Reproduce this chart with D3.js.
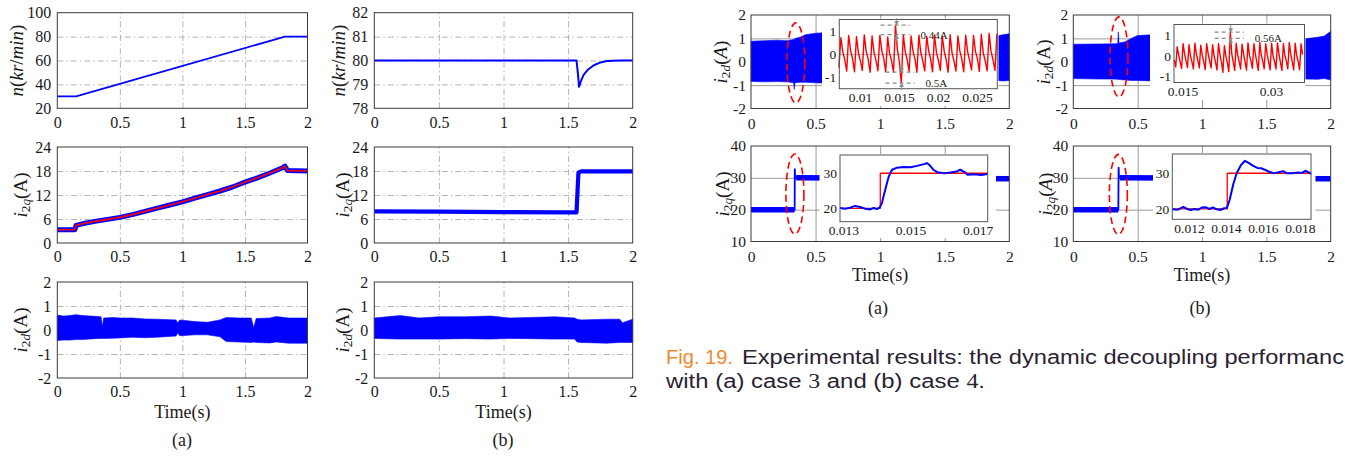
<!DOCTYPE html>
<html>
<head>
<meta charset="utf-8">
<script src="https://cdn.jsdelivr.net/npm/d3@7"></script>
<style>
body {margin:0; background:#fff}
svg {display:block}
</style>
</head>
<body>
<script>
// ---------------- data ----------------
var timeTicks = [0, 0.5, 1, 1.5, 2]

// left column (a): speed ramp, i2q tracking, i2d ripple envelope
var speedA_t = [0, 0.15, 1.82, 2]
var speedA_v = [30, 30, 80, 80]
var iqA_t = [0, 0.14, 0.15, 0.2, 0.3, 0.4, 0.5, 0.6, 0.7, 0.8, 0.9, 1.0, 1.1, 1.2, 1.3, 1.4, 1.5, 1.6, 1.7, 1.8, 1.82, 1.84, 2]
var iqA_v = [3.3, 3.3, 4.4, 4.8, 5.4, 5.9, 6.4, 7.1, 7.9, 8.7, 9.5, 10.3, 11.2, 12.1, 13.0, 14.0, 15.2, 16.3, 17.5, 18.8, 19.2, 18.1, 18.0]
var idA_t  = [0, 0.05, 0.1, 0.15, 0.2, 0.3, 0.35, 0.36, 0.37, 0.45, 0.5, 0.6, 0.7, 0.8, 0.95, 0.96, 0.98, 1.1, 1.2, 1.3, 1.35, 1.45, 1.55, 1.57, 1.59, 1.7, 1.75, 1.85, 2]
var idA_hi = [0.62, 0.58, 0.6, 0.64, 0.6, 0.57, 0.55, 0.12, 0.5, 0.52, 0.5, 0.5, 0.46, 0.45, 0.42, 0.3, 0.42, 0.35, 0.32, 0.42, 0.52, 0.5, 0.5, 0.1, 0.48, 0.5, 0.56, 0.5, 0.5]
var idA_lo = [-0.44, -0.42, -0.42, -0.4, -0.4, -0.36, -0.35, -0.35, -0.35, -0.34, -0.33, -0.3, -0.32, -0.3, -0.25, -0.12, -0.24, -0.2, -0.2, -0.28, -0.48, -0.5, -0.52, -0.5, -0.52, -0.54, -0.5, -0.55, -0.55]

// left column (b): load step at 1.57 s
var speedB_t = [0, 1.565, 1.575, 1.585, 1.6, 1.62, 1.65, 1.7, 1.75, 1.8, 1.9, 2]
var speedB_v = [80, 80, 79.5, 78.9, 79.15, 79.4, 79.6, 79.8, 79.92, 79.98, 80, 80]
var iqB_t = [0, 0.5, 1.0, 1.5, 1.565, 1.58, 1.6, 2]
var iqB_v = [7.9, 7.85, 7.7, 7.65, 7.65, 17.6, 17.9, 17.9]
var idB_t  = [0, 0.2, 0.35, 0.5, 0.7, 0.9, 1.05, 1.2, 1.4, 1.55, 1.57, 1.6, 1.8, 1.9, 1.92, 2]
var idB_hi = [0.5, 0.6, 0.5, 0.55, 0.55, 0.58, 0.5, 0.52, 0.55, 0.5, 0.45, 0.42, 0.45, 0.45, 0.3, 0.45]
var idB_lo = [-0.35, -0.38, -0.38, -0.38, -0.36, -0.38, -0.35, -0.36, -0.38, -0.38, -0.5, -0.52, -0.55, -0.52, -0.52, -0.52]

// right group, i2d ripple envelopes (case 3 / case 4)
var rdA_t  = [0, 0.1, 0.2, 0.28, 0.33, 0.335, 0.34, 0.38, 0.42, 0.5, 0.6, 1.0, 1.5, 1.9, 1.95, 2]
var rdA_hi = [0.88, 0.9, 0.92, 0.9, 0.95, 0.95, 1.0, 1.05, 1.15, 1.22, 1.25, 1.2, 1.15, 1.1, 1.15, 1.2]
var rdA_lo = [-0.84, -0.86, -0.85, -0.86, -0.9, -1.18, -0.9, -0.88, -0.88, -0.9, -0.92, -0.9, -0.88, -0.8, -0.82, -0.8]
var rdB_t  = [0, 0.2, 0.3, 0.345, 0.35, 0.355, 0.4, 0.45, 0.5, 0.6, 1.0, 1.5, 1.8, 1.9, 1.95, 2]
var rdB_hi = [0.75, 0.76, 0.77, 0.77, 1.28, 0.8, 0.85, 1.0, 1.12, 1.15, 1.1, 1.0, 0.98, 1.05, 1.1, 1.3]
var rdB_lo = [-0.72, -0.74, -0.74, -0.75, -0.75, -0.76, -0.78, -0.8, -0.8, -0.82, -0.8, -0.75, -0.74, -0.75, -0.72, -0.78]

// right group, i2q steps 20 -> 30 A
var rqA_t = [0, 0.338, 0.339, 0.342, 0.35, 2]
var rqA_v = [20, 20, 32.7, 30.4, 30, 29.7]
var rqB_t = [0, 0.35, 0.352, 0.355, 0.362, 2]
var rqB_v = [20, 20, 33.2, 30.4, 30, 29.7]

// zoomed i2d waveforms (sampled every 0.25 ms)
var zdA_t0 = 0.0073, zdB_t0 = 0.0136, zd_dt = 0.00025
var zdA_v = [-0.6, 0.72, 0.1, -0.25, -0.75, 0.82, 0.15, -0.2, -0.78, 0.78, 0.05, -0.3, -0.72, 0.85, 0.12, -0.22,
  -0.8, 0.8, 0.08, -0.28, -0.74, 0.83, 0.14, -0.2, -0.78, 0.76, 0.02, -0.3, -0.8, 1.28, 0.2, -0.35,
  -1.28, 0.86, 0.1, -0.25, -0.76, 0.8, 0.12, -0.22, -0.8, 0.84, 0.06, -0.3, -0.74, 0.78, 0.15, -0.2,
  -0.78, 0.85, 0.08, -0.28, -0.72, 0.8, 0.12, -0.25, -0.8, 0.86, 0.05, -0.3, -0.75, 0.8, 0.14, -0.22,
  -0.78, 0.84, 0.1, -0.28, -0.7, 0.82, 0.12, -0.2, -0.76, 0.88, 0.06, -0.3, -0.74, 0.92, 0.12, -0.25,
  -0.72, 0.9]
var zdB_v = [-0.2, -0.55, 0.45, 0.05, -0.3, -0.62, 0.6, 0.1, -0.25, -0.58, 0.55, 0.0, -0.3, -0.65, 0.62, 0.08,
  -0.22, -0.6, 0.52, 0.02, -0.3, -0.68, 0.6, 0.1, -0.25, -0.6, 0.55, 0.0, -0.32, -0.7, 0.6, 0.06,
  -0.3, -0.82, 0.5, 0.0, -0.35, -0.78, 1.16, 0.1, -0.3, -0.72, 0.62, 0.05, -0.28, -0.65, 0.58, 0.08,
  -0.3, -0.7, 0.64, 0.02, -0.25, -0.62, 0.6, 0.1, -0.32, -0.72, 0.66, 0.04, -0.26, -0.64, 0.6, 0.08,
  -0.3, -0.7, 0.62, 0.0, -0.28, -0.66, 0.64, 0.1, -0.32, -0.72, 0.6, 0.05, -0.26, -0.64, 0.66, 0.08,
  -0.3, -0.7, 0.62, 0.02, -0.28, -0.68, 0.6, 0.06]

// zoomed i2q step responses
var zqA_ref_t = [0.0129, 0.0141, 0.0141, 0.0173]
var zqA_ref_v = [20, 20, 30, 30]
var zqA_t = [0.0129, 0.01305, 0.0132, 0.01335, 0.0135, 0.01365, 0.0138, 0.0139, 0.014, 0.01408, 0.01415, 0.0142, 0.01428, 0.01435, 0.01445, 0.0146, 0.0148, 0.015, 0.0152, 0.0154, 0.01549, 0.01558, 0.01568, 0.0158, 0.016, 0.0162, 0.0164, 0.01648, 0.0166, 0.0167, 0.0169, 0.0171, 0.0173]
var zqA_v = [20.1, 19.9, 20.2, 20.7, 20.4, 19.9, 19.7, 20.1, 19.8, 20.2, 21.5, 23.5, 26.5, 29, 31, 31.6, 31.8, 31.7, 32.1, 32.6, 32.9, 32.2, 31, 30.3, 30.0, 30.2, 30.6, 31.0, 30.4, 29.6, 29.7, 29.5, 29.8]
var zqB_ref_t = [0.0111, 0.01407, 0.01407, 0.0186]
var zqB_ref_v = [20, 20, 30, 30]
var zqB_t = [0.0111, 0.0114, 0.0117, 0.0119, 0.0121, 0.0123, 0.0125, 0.0127, 0.0129, 0.0131, 0.0133, 0.0135, 0.0137, 0.0139, 0.01405, 0.0142, 0.0144, 0.01458, 0.0148, 0.01503, 0.0152, 0.0155, 0.0157, 0.0159, 0.0161, 0.0163, 0.0166, 0.0168, 0.0171, 0.0173, 0.0176, 0.0179, 0.0181, 0.0183, 0.0185, 0.0186]
var zqB_v = [19.9, 19.8, 20.6, 20.0, 19.7, 20.0, 19.8, 20.4, 20.5, 20.0, 20.4, 19.9, 19.7, 20.2, 20.3, 22.5, 27, 30, 32.2, 33.5, 33.0, 32.0, 31.5, 31.4, 31.0, 30.5, 30.0, 30.2, 30.6, 30.0, 30.0, 30.2, 30.1, 30.7, 30.2, 29.7]

// peak annotations in the i2d zooms
var annA = [{hi: 1.28, lo: 0.86, t: 0.01469, label: "0.44A"}, {hi: -0.8, lo: -1.28, t: 0.01533, label: "0.5A"}]
var annB = [{hi: 1.17, lo: 0.86, t: 0.02317, label: "0.56A"}]

// ---------------- drawing ----------------
var svg = d3.select("body").append("svg").attr("width", 1345).attr("height", 458)
var blue = "#0000ff", red = "#ff0000", serif = "Liberation Serif"

function pairs(t, v) { return d3.zip(t, v) }
function series(t0, v) { return v.map(function(d, i) { return [t0 + i * zd_dt, d] }) }

function panel(o) {
  var x = d3.scaleLinear().domain(o.xd).range([o.x0, o.x1])
  var y = d3.scaleLinear().domain(o.yd).range([o.y1, o.y0])
  var g = svg.append("g")
  if (o.bg) g.append("rect").attr("x", o.bg[0]).attr("y", o.bg[1]).attr("width", o.bg[2] - o.bg[0]).attr("height", o.bg[3] - o.bg[1]).attr("fill", "#fff")
  if (o.gx) {
    g.append("g").attr("class", "grid").attr("transform", "translate(0," + o.y1 + ")")
      .call(d3.axisBottom(x).tickValues(o.gx).tickSize(-(o.y1 - o.y0)).tickFormat(""))
  }
  if (o.gy) {
    g.append("g").attr("class", "grid").attr("transform", "translate(" + o.x0 + ",0)")
      .call(d3.axisLeft(y).tickValues(o.gy).tickSize(-(o.x1 - o.x0)).tickFormat(""))
  }
  g.selectAll(".grid .domain").remove()
  g.selectAll(".grid line").attr("stroke", o.gridColor).attr("stroke-width", 1).attr("stroke-dasharray", o.dash || null)
  var data = g.append("g")
  g.append("rect").attr("x", o.x0).attr("y", o.y0).attr("width", o.x1 - o.x0).attr("height", o.y1 - o.y0)
    .attr("fill", "none").attr("stroke", o.box).attr("stroke-width", 1)
  var ax = g.append("g").attr("transform", "translate(0," + o.y1 + ")")
    .call(d3.axisBottom(x).tickValues(o.xt).tickSize(0).tickPadding(o.padX).tickFormat(String))
  var ay = g.append("g").attr("transform", "translate(" + o.x0 + ",0)")
    .call(d3.axisLeft(y).tickValues(o.yt).tickSize(0).tickPadding(o.padY).tickFormat(String))
  ;[ax, ay].forEach(function(a) {
    a.select(".domain").remove()
    a.attr("font-family", serif).attr("font-size", o.fs)
    a.selectAll("text").attr("fill", "#1a1a1a")
  })
  return {x: x, y: y, g: data}
}

function line(p, d, color, w) {
  p.g.append("path").datum(d).attr("fill", "none").attr("stroke", color).attr("stroke-width", w)
    .attr("stroke-linejoin", "round")
    .attr("d", d3.line().x(function(e) { return p.x(e[0]) }).y(function(e) { return p.y(e[1]) }))
}
function band(p, t, lo, hi) {
  p.g.append("path").datum(d3.range(t.length)).attr("fill", blue).attr("stroke", blue).attr("stroke-width", 0.6)
    .attr("d", d3.area().x(function(i) { return p.x(t[i]) }).y0(function(i) { return p.y(lo[i]) }).y1(function(i) { return p.y(hi[i]) }))
}

// rotated y label built from pieces: [text, italic, subscript]
function ylabel(x, cy, parts, fs) {
  var t = svg.append("text").attr("transform", "translate(" + x + "," + cy + ") rotate(-90)")
    .attr("text-anchor", "middle").attr("dominant-baseline", "central")
    .attr("font-family", serif).attr("font-size", fs).attr("fill", "#1a1a1a")
  var shifted = false
  parts.forEach(function(p) {
    var s = t.append("tspan").text(p[0]).attr("font-style", p[1] ? "italic" : "normal")
    if (p[2]) { s.attr("font-size", fs * 0.7).attr("dy", shifted ? 0 : fs * 0.28); shifted = true }
    else if (shifted) { s.attr("dy", -fs * 0.28); shifted = false }
  })
}
function caption(x, y, s) {
  svg.append("text").attr("x", x).attr("y", y).attr("text-anchor", "middle")
    .attr("font-family", serif).attr("font-size", 18).attr("fill", "#1a1a1a").text(s)
}

var nLab = [["n", 1], ["(", 0], ["kr", 1], ["/", 0], ["min", 1], [")", 0]]
var iqLab = [["i", 1], ["2", 0, 1], ["q", 1, 1], ["(A)", 0]]
var idLab = [["i", 1], ["2", 0, 1], ["d", 1, 1], ["(A)", 0]]
var iqLabI = [["i", 1], ["2", 0, 1], ["q", 1, 1], ["(", 0], ["A", 1], [")", 0]]
var idLabI = [["i", 1], ["2", 0, 1], ["d", 1, 1], ["(", 0], ["A", 1], [")", 0]]

// ---- left group ----
var leftCols = [{x0: 57.3, x1: 307.5, lx: 16}, {x0: 374.3, x1: 632.7, lx: 338}]
var leftRows = [[12.7, 108.3], [147, 243], [282, 378]]
function leftPanel(c, r, yd) {
  return panel({x0: c.x0, x1: c.x1, y0: r[0], y1: r[1], xd: [0, 2], yd: [yd[0], yd[yd.length - 1]],
    xt: timeTicks, yt: yd, gx: timeTicks.slice(1, -1), gy: yd.slice(1, -1),
    gridColor: "#b4b4b4", dash: "6,3,1.5,3", box: "#3a3a3a", fs: 16, padX: 8, padY: 6})
}

var p = leftPanel(leftCols[0], leftRows[0], [20, 40, 60, 80, 100])
line(p, pairs(speedA_t, speedA_v), blue, 1.8)
p = leftPanel(leftCols[0], leftRows[1], [0, 6, 12, 18, 24])
line(p, pairs(iqA_t, iqA_v), blue, 5)
line(p, pairs(iqA_t, iqA_v), red, 1.6)
p = leftPanel(leftCols[0], leftRows[2], [-2, -1, 0, 1, 2])
band(p, idA_t, idA_lo, idA_hi)

p = leftPanel(leftCols[1], leftRows[0], [78, 79, 80, 81, 82])
line(p, pairs(speedB_t, speedB_v), blue, 2)
p = leftPanel(leftCols[1], leftRows[1], [0, 6, 12, 18, 24])
line(p, pairs(iqB_t, iqB_v), blue, 4.2)
p = leftPanel(leftCols[1], leftRows[2], [-2, -1, 0, 1, 2])
band(p, idB_t, idB_lo, idB_hi)

leftCols.forEach(function(c) {
  ylabel(c.lx, 60.5, nLab, 19)
  ylabel(c.lx + 4, 195, iqLab, 19)
  ylabel(c.lx + 4, 330, idLab, 19)
  caption((c.x0 + c.x1) / 2, 418, "Time(s)")
})
caption(182, 446, "(a)")
caption(503, 446, "(b)")

// ---- right group ----
var rightCols = [{x0: 751, x1: 1009.3, lx: 720}, {x0: 1073.3, x1: 1330.7, lx: 1043}]
var rTop = [15, 108.5], rBot = [146, 241.5]
function rightPanel(c, r, yd) {
  return panel({x0: c.x0, x1: c.x1, y0: r[0], y1: r[1], xd: [0, 2], yd: [yd[0], yd[yd.length - 1]],
    xt: timeTicks, yt: yd, gx: timeTicks.slice(1, -1), gy: yd.slice(1, -1),
    gridColor: "#9a9a9a", box: "#3a3a3a", fs: 15.5, padX: 9, padY: 5})
}
function inset(o) {
  return panel({x0: o.x0, x1: o.x1, y0: o.y0, y1: o.y1, xd: o.xd, yd: o.yd, xt: o.xt, yt: o.yt,
    gy: o.gy, gridColor: "#b0b0b0", box: "#555", fs: 13.5, padX: 4, padY: 3, bg: o.bg})
}
function ellipse(p, t, v) {
  p.g.append("ellipse").attr("cx", p.x(t)).attr("cy", p.y(v)).attr("rx", 9).attr("ry", 40)
    .attr("fill", "none").attr("stroke", red).attr("stroke-width", 1.6).attr("stroke-dasharray", "7,4")
}
function annotate(p, list) {
  var g = svg.append("g").attr("stroke", "#8a8a8a").attr("fill", "#8a8a8a")
  var len = 7
  list.forEach(function(a) {
    var xa = p.x(a.t), y1 = p.y(a.hi), y2 = p.y(a.lo)
    ;[y1, y2].forEach(function(yy) {
      g.append("line").attr("x1", xa - 16).attr("x2", xa + 13).attr("y1", yy).attr("y2", yy)
        .attr("stroke-dasharray", "4,3").attr("stroke-width", 1.2)
    })
    g.append("line").attr("x1", xa).attr("x2", xa).attr("y1", y1 - len).attr("y2", y1).attr("stroke-width", 1)
    g.append("path").attr("stroke", "none").attr("d", "M" + xa + "," + y1 + "l-2.5,-4h5z")
    g.append("line").attr("x1", xa).attr("x2", xa).attr("y1", y2 + len).attr("y2", y2).attr("stroke-width", 1)
    g.append("path").attr("stroke", "none").attr("d", "M" + xa + "," + y2 + "l-2.5,4h5z")
    svg.append("text").attr("x", xa + 24).attr("y", y2).attr("dominant-baseline", "central")
      .attr("font-family", serif).attr("font-size", 11).attr("fill", "#222").text(a.label)
  })
}

// case 3 (a)
p = rightPanel(rightCols[0], rTop, [-2, -1, 0, 1, 2])
band(p, rdA_t, rdA_lo, rdA_hi)
var eA = p
var zi = inset({x0: 839.3, x1: 997.3, y0: 19.5, y1: 88.7, xd: [0.00735, 0.0276], yd: [-1.53, 1.53],
  xt: [0.01, 0.015, 0.02, 0.025], yt: [-1, 0, 1], gy: [0], bg: [822, 18.5, 998.5, 106]})
line(zi, series(zdA_t0, zdA_v), red, 1.4)
annotate(zi, annA)
ellipse(eA, 0.347, -0.05)

p = rightPanel(rightCols[0], rBot, [10, 20, 30, 40])
line(p, pairs(rqA_t, rqA_v), blue, 1.8)
line(p, pairs(rqA_t.slice(0, 2), rqA_v.slice(0, 2)), blue, 5.5)
line(p, pairs(rqA_t.slice(-2), rqA_v.slice(-2)), blue, 5.5)
eA = p
zi = inset({x0: 840, x1: 987.7, y0: 155, y1: 221.7, xd: [0.0129, 0.0173], yd: [16.2, 35.2],
  xt: [0.013, 0.015, 0.017], yt: [20, 30], bg: [819.5, 154, 996, 238]})
line(zi, pairs(zqA_ref_t, zqA_ref_v), red, 1.3)
line(zi, pairs(zqA_t, zqA_v), blue, 2)
ellipse(eA, 0.34, 24.9)

// case 4 (b)
p = rightPanel(rightCols[1], rTop, [-2, -1, 0, 1, 2])
band(p, rdB_t, rdB_lo, rdB_hi)
eA = p
zi = inset({x0: 1174, x1: 1304.5, y0: 24.5, y1: 82.5, xd: [0.01356, 0.03568], yd: [-1.32, 1.55],
  xt: [0.015, 0.03], yt: [-1, 0, 1], bg: [1150, 23.5, 1305.5, 100]})
line(zi, series(zdB_t0, zdB_v), red, 1.4)
annotate(zi, annB)
ellipse(eA, 0.355, 0.21)

p = rightPanel(rightCols[1], rBot, [10, 20, 30, 40])
line(p, pairs(rqB_t, rqB_v), blue, 1.8)
line(p, pairs(rqB_t.slice(0, 2), rqB_v.slice(0, 2)), blue, 5.5)
line(p, pairs(rqB_t.slice(-2), rqB_v.slice(-2)), blue, 5.5)
eA = p
zi = inset({x0: 1172.3, x1: 1311, y0: 154, y1: 219.3, xd: [0.0111, 0.0186], yd: [17.1, 35.4],
  xt: [0.012, 0.014, 0.016, 0.018], yt: [20, 30], bg: [1153, 153, 1315.5, 237]})
line(zi, pairs(zqB_ref_t, zqB_ref_v), red, 1.3)
line(zi, pairs(zqB_t, zqB_v), blue, 2)
ellipse(eA, 0.35, 24.8)

ylabel(rightCols[0].lx, 62, idLabI, 19)
ylabel(rightCols[0].lx + 2, 194, iqLab, 19)
ylabel(rightCols[1].lx, 62, idLab, 19)
ylabel(rightCols[1].lx + 2, 194, iqLabI, 19)
rightCols.forEach(function(c) { caption((c.x0 + c.x1) / 2, 281, "Time(s)") })
caption(878, 314, "(a)")
caption(1200, 314, "(b)")

// figure caption (justified text, stretched to the widths in the scan)
var capFont = "Liberation Sans"
svg.append("text").attr("x", 666).attr("y", 364).attr("font-family", capFont).attr("font-size", 20)
  .attr("fill", "#ec8a2e").attr("textLength", 67).attr("lengthAdjust", "spacingAndGlyphs").text("Fig. 19.")
svg.append("text").attr("x", 742).attr("y", 364).attr("font-family", capFont).attr("font-size", 20)
  .attr("fill", "#2b2233").attr("textLength", 602).attr("lengthAdjust", "spacingAndGlyphs")
  .text("Experimental results: the dynamic decoupling performanc")
var cap2 = svg.append("text").attr("x", 666).attr("y", 388).attr("font-family", capFont).attr("font-size", 20)
  .attr("fill", "#2b2233").attr("textLength", 319).attr("lengthAdjust", "spacingAndGlyphs")
cap2.append("tspan").text("with (a) case ")
cap2.append("tspan").attr("font-family", serif).text(" 3")
cap2.append("tspan").text(" and (b) case ")
cap2.append("tspan").attr("font-family", serif).text(" 4")
cap2.append("tspan").text(".")
</script>
</body>
</html>
